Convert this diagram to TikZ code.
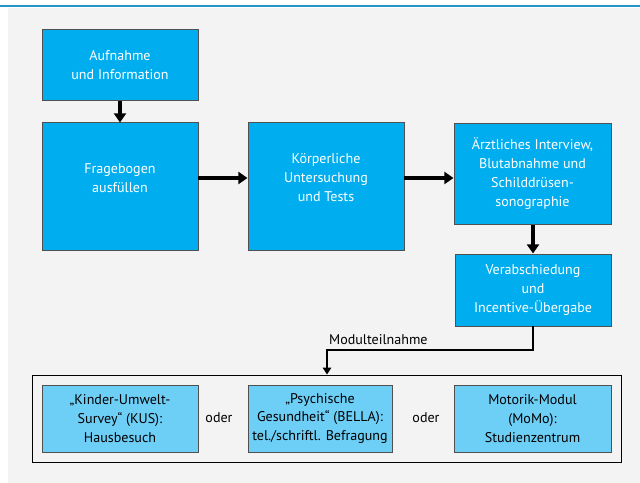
\documentclass[tikz,border=0pt]{standalone}
\usepackage{fontspec}
\setmainfont{PT Sans}
\usetikzlibrary{arrows.meta, positioning}

\definecolor{procblue}{RGB}{0,174,239}
\definecolor{modblue}{RGB}{109,207,246}
\definecolor{topline}{RGB}{40,150,205}
\definecolor{bggray}{RGB}{243,243,243}
\definecolor{boxline}{RGB}{80,80,80}

\begin{document}
\begin{tikzpicture}[
    proc node/.style={rectangle, draw=boxline, line width=0.7pt, fill=procblue, minimum width=3.9cm, inner sep=0pt},
    proc text/.style={text=white, align=center, font=\fontsize{10}{13.5}\selectfont},
    mod node/.style={rectangle, draw=boxline, line width=0.7pt, fill=modblue, minimum height=1.675cm, inner sep=0pt, align=center, font=\fontsize{10}{13.5}\selectfont},
    arrow/.style={-{Triangle[length=6.5pt,width=8.5pt]}, line width=2.2pt},
    thin arrow/.style={-{Triangle[length=5pt,width=6pt]}, line width=1.5pt}
    ]

    \useasboundingbox (0,0) rectangle (16,12.075);

    % Hintergrund
    \fill[bggray] (0.2,0) rectangle (16,11.875);
    \draw[topline, line width=1.4pt] (0,11.925) -- (16,11.925);

    % obere Reihe
    \node[proc node, minimum height=1.775cm, proc text] (AUF) at (3.0,10.4375) {Aufnahme\\und Information};

    \node[proc node, minimum height=3.175cm] (FRAG) at (3.0,7.4125) {};
    \node[proc text] (FRAGt) at (3.0,7.625) {Fragebogen\\ausfüllen};

    \node[proc node, minimum height=3.175cm] (KOERP) at (8.15,7.4125) {};
    \node[proc text] (KOERPt) at (8.15,7.625) {Körperliche\\Untersuchung\\und Tests};

    \node[proc node, minimum width=3.925cm, minimum height=2.525cm, proc text] (ARZT) at (13.3125,7.725) {Ärztliches Interview,\\Blutabnahme und\\Schilddrüsen-\\sonographie};

    \node[proc node, minimum width=3.9cm, minimum height=1.8cm, proc text] (VERAB) at (13.325,4.825) {Verabschiedung\\und\\Incentive-Übergabe};

    % Module
    \node[draw=black, line width=0.6pt, minimum width=14.725cm, minimum height=2.175cm, inner sep=0pt] (MOD) at (8.1625,1.6125) {};

    \node[mod node, minimum width=3.9cm] (KUS) at (3.0,1.6125) {„Kinder-Umwelt-\\Survey“ (KUS):\\Hausbesuch};
    \node[mod node, minimum width=3.6cm] (BELLA) at (8.0,1.6125) {„Psychische\\Gesundheit“ (BELLA):\\tel./schriftl. Befragung};
    \node[mod node, minimum width=3.925cm] (MOMO) at (13.3125,1.6125) {Motorik-Modul\\(MoMo):\\Studienzentrum};

    \node[font=\fontsize{10}{13.5}\selectfont] (ODER1) at (5.475,1.625) {oder};
    \node[font=\fontsize{10}{13.5}\selectfont] (ODER2) at (10.65,1.625) {oder};

    % Pfeile
    \draw[arrow] (AUF) -- (FRAG);
    \draw[arrow] (FRAG.east |- KOERPt) -- (KOERP.west |- KOERPt);
    \draw[arrow] (KOERP.east |- KOERPt) -- (ARZT.west |- KOERPt);
    \draw[arrow] (ARZT.south -| VERAB) -- (VERAB);

    \coordinate (KNICK) at (8.175,3.325);
    \draw[thin arrow] (VERAB.south) |- (KNICK) -- (KNICK |- MOD.north);
    \node[above right=0pt and -2pt of KNICK, font=\fontsize{10}{13.5}\selectfont] (MT) {Modulteilnahme};

\end{tikzpicture}
\end{document}
